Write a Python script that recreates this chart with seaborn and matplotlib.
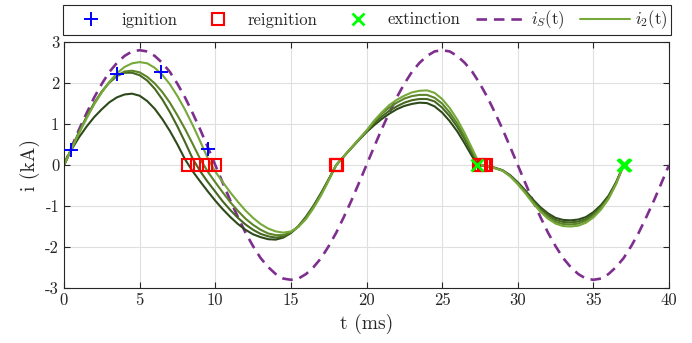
import numpy as np
import seaborn as sns
import matplotlib.pyplot as plt

# time grids (ms)
t = np.arange(0, 37.5, 0.5)
t_s = np.arange(0, 40.5, 0.5)

# source current i_S(t), kA
i_s = [0, 0.44, 0.87, 1.27, 1.65, 1.98, 2.27, 2.49, 2.66, 2.77,
       2.80, 2.77, 2.66, 2.49, 2.27, 1.98, 1.65, 1.27, 0.87, 0.44,
       0, -0.44, -0.87, -1.27, -1.65, -1.98, -2.27, -2.49, -2.66, -2.77,
       -2.80, -2.77, -2.66, -2.49, -2.27, -1.98, -1.65, -1.27, -0.87, -0.44,
       0, 0.44, 0.87, 1.27, 1.65, 1.98, 2.27, 2.49, 2.66, 2.77,
       2.80, 2.77, 2.66, 2.49, 2.27, 1.98, 1.65, 1.27, 0.87, 0.44,
       0, -0.44, -0.87, -1.27, -1.65, -1.98, -2.27, -2.49, -2.66, -2.77,
       -2.80, -2.77, -2.66, -2.49, -2.27, -1.98, -1.65, -1.27, -0.87, -0.44,
       0]

# arc currents i_2(t), four cases (dark -> light)
i2_a = [0, 0.38, 0.68, 0.94, 1.17, 1.36, 1.53, 1.65, 1.72, 1.74,
        1.69, 1.56, 1.37, 1.12, 0.83, 0.50, 0.14, -0.15, -0.40, -0.64,
        -0.87, -1.08, -1.27, -1.44, -1.58, -1.69, -1.76, -1.81, -1.82, -1.77,
        -1.66, -1.49, -1.26, -0.99, -0.68, -0.35, 0, 0.21, 0.41, 0.61,
        0.80, 0.97, 1.12, 1.25, 1.36, 1.44, 1.49, 1.52, 1.51, 1.43,
        1.28, 1.07, 0.82, 0.52, 0.20, -0.01, -0.03, -0.07, -0.13, -0.25,
        -0.42, -0.62, -0.84, -1.03, -1.18, -1.29, -1.34, -1.35, -1.33, -1.27,
        -1.15, -0.98, -0.75, -0.42, 0]
i2_b = [0, 0.41, 0.81, 1.18, 1.51, 1.79, 2.01, 2.17, 2.25, 2.25,
        2.19, 2.06, 1.86, 1.60, 1.29, 0.94, 0.56, 0.16, -0.15, -0.41,
        -0.65, -0.89, -1.10, -1.29, -1.45, -1.58, -1.68, -1.74, -1.77, -1.75,
        -1.65, -1.50, -1.28, -1.01, -0.69, -0.35, 0, 0.21, 0.42, 0.62,
        0.82, 1.02, 1.18, 1.32, 1.43, 1.52, 1.58, 1.61, 1.61, 1.55,
        1.40, 1.19, 0.93, 0.62, 0.28, 0.0, -0.03, -0.07, -0.13, -0.26,
        -0.44, -0.64, -0.87, -1.07, -1.22, -1.34, -1.39, -1.40, -1.38, -1.32,
        -1.19, -1.02, -0.78, -0.44, 0]
i2_c = [0, 0.41, 0.80, 1.17, 1.51, 1.79, 2.02, 2.18, 2.28, 2.30,
        2.26, 2.15, 1.99, 1.78, 1.52, 1.21, 0.88, 0.52, 0.15, -0.16,
        -0.42, -0.67, -0.91, -1.12, -1.31, -1.46, -1.58, -1.67, -1.71, -1.71,
        -1.64, -1.50, -1.29, -1.02, -0.71, -0.36, 0, 0.21, 0.42, 0.63,
        0.83, 1.05, 1.25, 1.40, 1.52, 1.62, 1.68, 1.71, 1.71, 1.64,
        1.50, 1.28, 1.01, 0.68, 0.33, 0.0, -0.03, -0.08, -0.14, -0.27,
        -0.45, -0.67, -0.90, -1.11, -1.27, -1.39, -1.44, -1.45, -1.43, -1.36,
        -1.24, -1.05, -0.81, -0.45, 0]
i2_d = [0, 0.39, 0.78, 1.14, 1.48, 1.77, 2.03, 2.24, 2.39, 2.48,
        2.51, 2.48, 2.37, 2.20, 1.97, 1.68, 1.35, 0.98, 0.58, 0.17,
        -0.16, -0.42, -0.67, -0.90, -1.11, -1.29, -1.44, -1.55, -1.62, -1.65,
        -1.62, -1.51, -1.32, -1.05, -0.74, -0.38, 0, 0.21, 0.42, 0.63,
        0.84, 1.08, 1.28, 1.46, 1.59, 1.69, 1.77, 1.81, 1.82, 1.76,
        1.61, 1.39, 1.11, 0.77, 0.39, 0.0, -0.03, -0.08, -0.14, -0.28,
        -0.47, -0.69, -0.93, -1.14, -1.31, -1.43, -1.49, -1.50, -1.48, -1.41,
        -1.28, -1.09, -0.83, -0.47, 0]

# events
ign_t = [0.48, 3.5, 6.4, 9.55]
ign_i = [0.36, 2.22, 2.27, 0.40]
reig_t = [8.2, 8.8, 9.4, 10.0, 17.98, 18.0, 18.02, 18.05, 27.45, 27.6, 27.75, 27.9]
reig_i = [0] * len(reig_t)
ext_t = [27.3, 36.95, 37.0, 37.05, 37.1]
ext_i = [0] * len(ext_t)

green = ['#2e4a1b', '#45671f', '#5c8428', '#77a93a']

sns.set_theme(style="whitegrid")
plt.rcParams['font.family'] = 'serif'
plt.rcParams['font.serif'] = ['cmr10']
plt.rcParams['mathtext.fontset'] = 'cm'
plt.rcParams['axes.unicode_minus'] = False

fig = plt.figure(figsize=(6.92, 3.43), dpi=100)
ax = fig.add_axes([64/692, 55/343, 605/692, 246/343])

sns.lineplot(x=t_s, y=i_s, color='#7e2f8e', lw=1.9, dashes=(4, 2.6),
             estimator=None, sort=False, label=r'$i_S$(t)', ax=ax)

for k, (vals, c) in enumerate(zip([i2_a, i2_b, i2_c, i2_d], green)):
    sns.lineplot(x=t, y=vals, color=c, lw=1.5, estimator=None, sort=False,
                 label=r'$i_2$(t)' if k == 3 else None, ax=ax)

sns.lineplot(x=ign_t, y=ign_i, marker='+', linestyle='none', ms=10, mew=1.4,
             mec='blue', color='blue', estimator=None, sort=False,
             label='ignition', ax=ax, zorder=5)
sns.lineplot(x=reig_t, y=reig_i, marker='s', linestyle='none', ms=9, mew=1.5,
             mec='red', mfc='none', color='red', estimator=None, sort=False,
             label='reignition', ax=ax, zorder=5)
sns.lineplot(x=ext_t, y=ext_i, marker='x', linestyle='none', ms=8, mew=2,
             mec='#00ff00', color='#00ff00', estimator=None, sort=False,
             label='extinction', ax=ax, zorder=5)

ax.set_xlim(0, 40)
ax.set_ylim(-3, 3)
ax.set_xticks(range(0, 45, 5))
ax.set_xticklabels([str(v) for v in range(0, 45, 5)])
ax.set_yticks(range(-3, 4))
ax.set_yticklabels([str(v) for v in range(-3, 4)])
ax.set_xlabel('t (ms)', fontsize=14, color='#262626')
ax.set_ylabel('i (kA)', fontsize=14, color='#262626')

ax.grid(True, color='#dfdfdf', lw=0.8)
ax.set_axisbelow(True)
for s in ax.spines.values():
    s.set_color('#262626')
    s.set_linewidth(0.8)
    s.set_visible(True)
ax.tick_params(direction='in', length=4, width=0.8, colors='#262626',
               bottom=True, left=True, top=True, right=True, labelsize=12)

handles, labels = ax.get_legend_handles_labels()
order = ['ignition', 'reignition', 'extinction', r'$i_S$(t)', r'$i_2$(t)']
hmap = dict(zip(labels, handles))
leg = ax.legend([hmap[l] for l in order], order, loc='center', mode='expand',
                bbox_to_anchor=(63/692, 1 - 33/343, 608/692, 26/343),
                bbox_transform=fig.transFigure, ncol=5, fontsize=12,
                handlelength=3.0, handletextpad=0.3, borderpad=0.2,
                borderaxespad=0, numpoints=1, fancybox=False, framealpha=1,
                edgecolor='#262626')
leg.get_frame().set_linewidth(0.8)

fig.savefig('out.png', dpi=100)
